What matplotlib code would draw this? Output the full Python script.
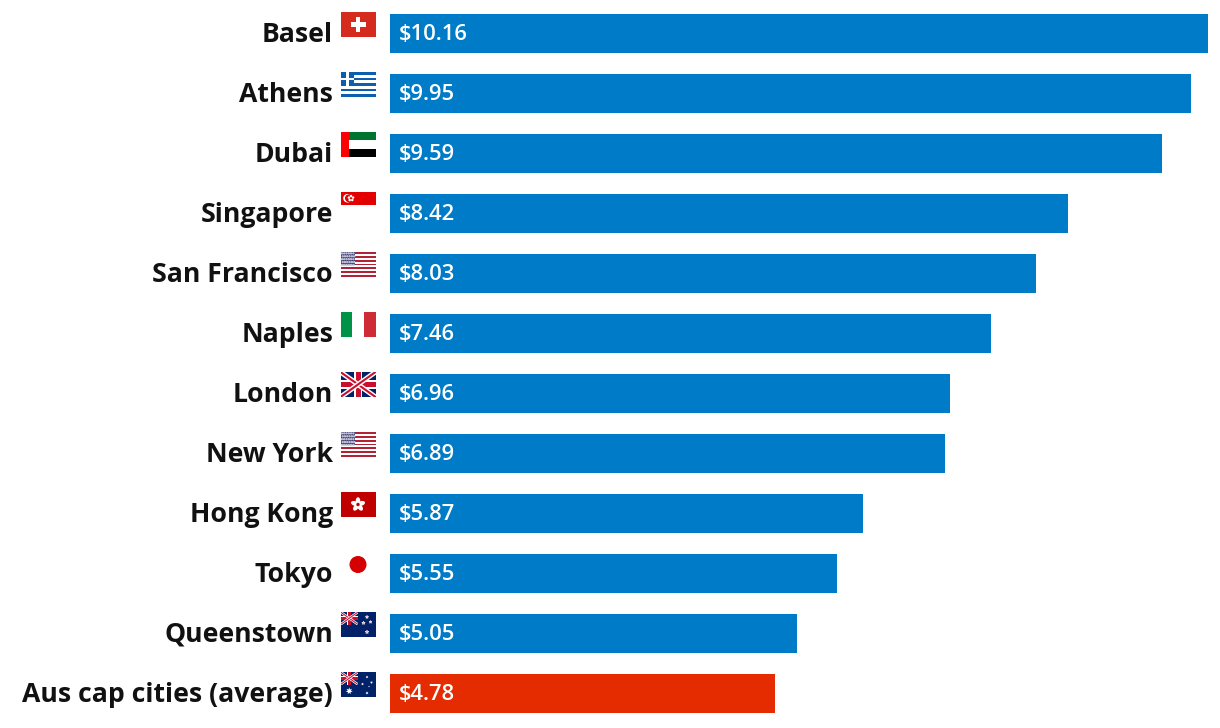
import numpy as np
import matplotlib
matplotlib.use("Agg")
import matplotlib.pyplot as plt
from matplotlib.patches import Rectangle, Circle, Polygon, Ellipse
from matplotlib.lines import Line2D

cities = ["Basel", "Athens", "Dubai", "Singapore", "San Francisco", "Naples",
          "London", "New York", "Hong Kong", "Tokyo", "Queenstown",
          "Aus cap cities (average)"]
prices = [10.16, 9.95, 9.59, 8.42, 8.03, 7.46, 6.96, 6.89, 5.87, 5.55, 5.05, 4.78]
flags = ["ch", "gr", "ae", "sg", "us", "it", "gb", "us", "hk", "jp", "nz", "au"]

BLUE = "#007bc7"
RED = "#e52b00"
FONT = "Open Sans"

W, H = 1220, 728
fig = plt.figure(figsize=(W / 100, H / 100), dpi=100)

# main bar axes: x=0 at px 390, 80.5 px per dollar
ax = fig.add_axes([390 / W, 0, (W - 390) / W, 1])
scale = 80.5
ax.set_xlim(0, (W - 390) / scale)
ax.set_ylim((H - 33.5) / 60, -33.5 / 60)
ax.axis("off")

y = np.arange(len(cities))
colors = [BLUE] * (len(cities) - 1) + [RED]
ax.barh(y, prices, height=0.65, color=colors)
for yi, v in zip(y, prices):
    ax.text(9 / scale, yi + 0.01, f"${v:.2f}", color="white", fontsize=15.8,
            fontweight="semibold", family=FONT, va="center", ha="left")

# overlay in pixel coordinates for labels and flags
ov = fig.add_axes([0, 0, 1, 1], zorder=3)
ov.set_xlim(0, W)
ov.set_ylim(H, 0)
ov.axis("off")


def rect(x, y, w, h, c, **kw):
    p = Rectangle((x, y), w, h, facecolor=c, edgecolor="none", **kw)
    ov.add_patch(p)
    return p


def star(cx, cy, r, c, n=5, inner=0.4, ec="none", lw=0):
    ang = np.arange(2 * n) * np.pi / n - np.pi / 2
    rr = np.where(np.arange(2 * n) % 2 == 0, r, r * inner)
    pts = np.c_[cx + rr * np.cos(ang), cy + rr * np.sin(ang)]
    ov.add_patch(Polygon(pts, closed=True, facecolor=c, edgecolor=ec, lw=lw))


def union_jack(x, y, w, h):
    clip = rect(x, y, w, h, "#012169")
    pw = 100 / 72
    for (a, b) in [((x, y), (x + w, y + h)), ((x, y + h), (x + w, y))]:
        l1 = Line2D([a[0], b[0]], [a[1], b[1]], color="white", lw=h / 5 / pw)
        l2 = Line2D([a[0], b[0]], [a[1], b[1]], color="#c8102e", lw=h / 12 / pw)
        for l in (l1, l2):
            ov.add_line(l)
            l.set_clip_path(clip)
    rect(x + w / 2 - h / 6, y, h / 3, h, "white")
    rect(x, y + h / 3, w, h / 3, "white")
    rect(x + w / 2 - h / 10, y, h / 5, h, "#c8102e")
    rect(x, y + h / 2 - h / 10, w, h / 5, "#c8102e")


def draw_flag(code, x, y, w=35, h=25):
    if code == "ch":
        rect(x, y, w, h, "#d52b1e")
        cx, cy = x + w / 2, y + h / 2
        rect(cx - 2.2, cy - 7.5, 4.4, 15, "white")
        rect(cx - 7.5, cy - 2.2, 15, 4.4, "white")
    elif code == "gr":
        sh = h / 9
        for i in range(9):
            rect(x, y + i * sh, w, sh, "#0d5eaf" if i % 2 == 0 else "white")
        cw = 5 * sh
        rect(x, y, cw, cw, "#0d5eaf")
        rect(x + 2 * sh, y, sh, cw, "white")
        rect(x, y + 2 * sh, cw, sh, "white")
    elif code == "ae":
        rect(x, y, w, h / 3, "#00732f")
        rect(x, y + h / 3, w, h / 3, "white")
        rect(x, y + 2 * h / 3, w, h / 3, "#000000")
        rect(x, y, w / 4, h, "#ff0000")
    elif code == "sg":
        rect(x, y, w, h / 2, "#e30000")
        ov.add_patch(Circle((x + 7, y + h / 4), 3.6, color="white"))
        ov.add_patch(Circle((x + 8.4, y + h / 4), 3.2, color="#e30000"))
        for k in range(5):
            a = -np.pi / 2 + k * 2 * np.pi / 5
            ov.add_patch(Circle((x + 10.5 + 2.2 * np.cos(a), y + h / 4 + 2.2 * np.sin(a)),
                                0.55, color="white"))
    elif code == "us":
        sh = h / 13
        for i in range(13):
            rect(x, y + i * sh, w, sh, "#b22234" if i % 2 == 0 else "white")
        cw, chh = w * 0.4, 7 * sh
        rect(x, y, cw, chh, "#3c3b6e")
        for r in range(5):
            for c in range(6):
                ov.add_patch(Circle((x + 1.4 + c * 2.3 + (r % 2) * 0.8, y + 1.4 + r * 2.9),
                                    0.45, color="#c9c9dd"))
    elif code == "it":
        rect(x, y, w / 3, h, "#009246")
        rect(x + w / 3, y, w / 3, h, "white")
        rect(x + 2 * w / 3, y, w / 3, h, "#ce2b37")
    elif code == "gb":
        union_jack(x, y, w, h)
    elif code == "hk":
        rect(x, y, w, h, "#c00000")
        cx, cy = x + w / 2, y + h / 2
        for k in range(5):
            a = np.deg2rad(-90 + k * 72)
            ov.add_patch(Ellipse((cx + 3.3 * np.cos(a), cy + 3.3 * np.sin(a)), 3.2, 6.5,
                                 angle=np.rad2deg(a) + 90, color="white"))
        ov.add_patch(Circle((cx, cy), 1.0, color="#c00000"))
    elif code == "jp":
        ov.add_patch(Circle((x + w / 2, y + h / 2), 7.8, color="#d50000"))
    elif code == "nz":
        rect(x, y, w, h, "#012169")
        union_jack(x, y, w / 2, h / 2)
        for sx, sy, r in [(x + 26.5, y + 5, 1.7), (x + 23, y + 11, 1.7),
                          (x + 30, y + 10, 1.5), (x + 26.5, y + 20, 1.9)]:
            star(sx, sy, r, "#c8102e", ec="white", lw=0.5)
    elif code == "au":
        rect(x, y, w, h, "#012169")
        union_jack(x, y, w / 2, h / 2)
        star(x + w / 4, y + 19, 3.6, "white", n=7, inner=0.45)
        for sx, sy, r in [(x + 26.5, y + 5, 1.5), (x + 22, y + 12, 1.5),
                          (x + 31, y + 10.5, 1.5), (x + 26.5, y + 21, 1.6),
                          (x + 28.5, y + 14.5, 0.9)]:
            star(sx, sy, r, "white", n=7, inner=0.45)


for i, (name, code) in enumerate(zip(cities, flags)):
    ov.text(333, 42 + 60 * i, name, ha="right", va="baseline", fontsize=19.2,
            fontweight="bold", family=FONT, color="#111111")
    draw_flag(code, 340.5, 12 + 60 * i)

fig.savefig("out.png", dpi=100)
